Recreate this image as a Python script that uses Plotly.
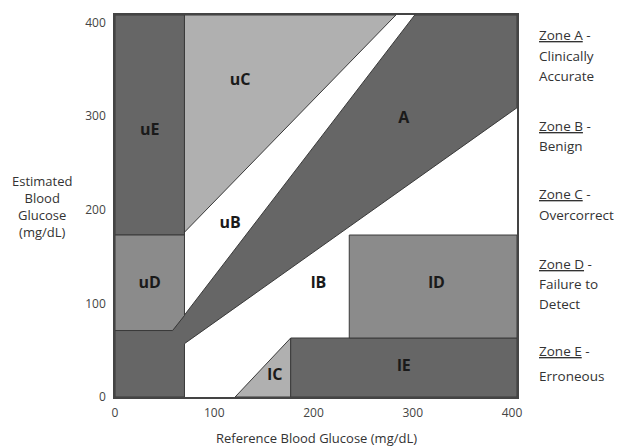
import plotly.graph_objects as go

# ---- data (zone boundaries, mg/dL) ----
X_MAX = 405
Y_MAX = 408

zone_A_x = [0, 70, 70, 405, 405, 302, 58, 0]
zone_A_y = [0, 0, 57, 309, 408, 408, 71, 71]

zone_uE_x = [0, 70, 70, 0]
zone_uE_y = [173, 173, 408, 408]

zone_uD_x = [0, 58, 70, 70, 0]
zone_uD_y = [71, 71, 87, 173, 173]

zone_uC_x = [70, 283, 70]
zone_uC_y = [176, 408, 408]

zone_lC_x = [121, 177, 177]
zone_lC_y = [0, 63, 0]

zone_lE_x = [177, 405, 405, 177]
zone_lE_y = [0, 0, 63, 63]

zone_lD_x = [236, 405, 405, 236]
zone_lD_y = [63, 63, 173, 173]

region_names = ["uC", "uE", "A", "uB", "uD", "lB", "lD", "lC", "lE"]
region_x = [126, 35, 291, 116, 35, 205, 324, 161, 291]
region_y = [337, 284, 297, 185, 121, 121, 121, 22, 32]

tick_vals = [0, 100, 200, 300, 400]
tick_text = ["0", "100", "200", "300", "400"]

legend_lines = ["<u>Zone A</u> -", "Clinically", "Accurate",
                "<u>Zone B</u> -", "Benign",
                "<u>Zone C</u> -", "Overcorrect",
                "<u>Zone D</u> -", "Failure to", "Detect",
                "<u>Zone E</u> -", "Erroneous"]
legend_px_y = [33, 54, 74, 125, 145, 193, 214, 263, 283, 304, 351, 376]

# ---- styling ----
DARK = "#666666"
MID = "#8b8b8b"
LIGHT = "#b0b0b0"
EDGE = "#3a3a3a"
FONT = "Open Sans"

# the page body has an 8px margin; lay out in page pixels and shift
OFF = 8
PAGE_W, PAGE_H = 625, 446
W, H = PAGE_W - OFF, PAGE_H - OFF
PLOT_L, PLOT_R, PLOT_T, PLOT_B = 115, 517, 13, 397   # page pixels
L = PLOT_L - OFF
T = PLOT_T - OFF
R = W - (PLOT_R - OFF)
B = H - (PLOT_B - OFF)
plot_w = PLOT_R - PLOT_L
plot_h = PLOT_B - PLOT_T

def px2paper_x(px):
    return (px - PLOT_L) / plot_w

def px2paper_y(py):
    return (PLOT_B - py) / plot_h

fig = go.Figure()

def poly(xs, ys, color):
    fig.add_trace(go.Scatter(
        x=xs + [xs[0]], y=ys + [ys[0]], mode="lines", fill="toself",
        fillcolor=color, line=dict(color=EDGE, width=1),
        hoverinfo="skip", showlegend=False))

poly(zone_A_x, zone_A_y, DARK)
poly(zone_uE_x, zone_uE_y, DARK)
poly(zone_uD_x, zone_uD_y, MID)
poly(zone_uC_x, zone_uC_y, LIGHT)
poly(zone_lC_x, zone_lC_y, LIGHT)
poly(zone_lE_x, zone_lE_y, DARK)
poly(zone_lD_x, zone_lD_y, MID)

fig.add_trace(go.Scatter(
    x=region_x, y=region_y, mode="text", text=region_names,
    textfont=dict(family=FONT, size=16, color="#1a1a1a", weight="bold"),
    hoverinfo="skip", showlegend=False))

annotations = []
for txt, py in zip(legend_lines, legend_px_y):
    annotations.append(dict(
        xref="paper", yref="paper", x=px2paper_x(537),
        y=px2paper_y(py), xanchor="left", yanchor="middle",
        text=txt, showarrow=False,
        font=dict(family=FONT, size=13.5, color="#333333")))

annotations.append(dict(
    xref="paper", yref="paper", x=px2paper_x(42),
    y=px2paper_y(206), xanchor="center", yanchor="middle",
    text="Estimated<br>Blood<br>Glucose<br>(mg/dL)", showarrow=False,
    align="center", font=dict(family=FONT, size=13, color="#333333")))

annotations.append(dict(
    xref="paper", yref="paper", x=0.5,
    y=px2paper_y(438), xanchor="center", yanchor="middle",
    text="Reference Blood Glucose (mg/dL)", showarrow=False,
    font=dict(family=FONT, size=13, color="#333333")))

axis_common = dict(
    showgrid=False, zeroline=False, showline=True, linecolor="#444444",
    linewidth=1.5, mirror=True, ticks="", tickvals=tick_vals,
    ticktext=tick_text, tickfont=dict(family=FONT, size=12, color="#444444"),
    fixedrange=True)

fig.update_layout(
    width=W, height=H,
    margin=dict(l=L, r=R, t=T, b=B),
    paper_bgcolor="white", plot_bgcolor="white",
    xaxis=dict(range=[0, X_MAX], ticklabelstandoff=4, **axis_common),
    yaxis=dict(range=[0, Y_MAX], ticklabelstandoff=5, **axis_common),
    annotations=annotations,
    showlegend=False,
)

fig.write_html("out.html")
